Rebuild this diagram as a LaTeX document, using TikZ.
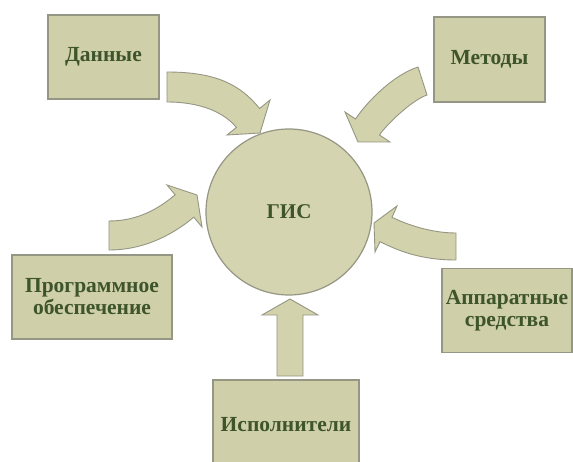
\documentclass[tikz,border=0pt]{standalone}
\usepackage{fontspec}
\setmainfont{Liberation Serif}
\definecolor{boxfill}{RGB}{207,207,170}
\definecolor{circfill}{RGB}{212,212,176}
\definecolor{arrfill}{RGB}{210,210,172}
\definecolor{edge}{RGB}{150,150,132}
\definecolor{txt}{RGB}{62,84,42}
\tikzset{
  blockbox/.style={draw=edge, line width=1.2pt, fill=boxfill, inner sep=0pt, text=txt,
     font=\rmfamily\fontsize{21.5}{22}\selectfont\bfseries, align=center},
  blockarrow/.style={draw=edge, line width=0.9pt, fill=arrfill, line join=miter},
}
\begin{document}
\begin{tikzpicture}[x=1pt,y=-1pt]
\useasboundingbox (0,0) rectangle (573,462);
\fill[white] (0,0) rectangle (573,462);
% boxes
\node[blockbox, minimum width=111, minimum height=84] (dan) at (103.5,57) {Данные};
\node[blockbox, minimum width=111, minimum height=85] (met) at (489.5,59.5) {Методы};
\node[blockbox, minimum width=160, minimum height=84] (prog) at (92,297) {Программное\\обеспечение};
\node[blockbox, minimum width=130, minimum height=84] (app) at (507,310.5) {Аппаратные\\средства};
\node[blockbox, minimum width=146, minimum height=90] (isp) at (286,425) {Исполнители};
% circle
\node[circle, draw=edge, line width=1.2pt, fill=circfill, minimum size=166, text=txt,
      font=\rmfamily\fontsize{21}{22}\selectfont\bfseries] (gis) at (289,212) {ГИС};
% arrow from Данные
\draw[blockarrow] (167,72) .. controls (217,72) and (240.6,85.2) .. (259.6,108.5)
   -- (270,100) -- (260,133) -- (227,135) -- (236.4,127.5)
   .. controls (223.8,112) and (200,102) .. (167,102) -- cycle;
% arrow from Методы
\draw[blockarrow] (418,67) .. controls (393,75) and (366.5,102.4) .. (355.5,119)
   -- (345,112) -- (358,142) -- (390,142) -- (379.5,135)
   .. controls (386,125) and (412,100) .. (427,95) -- cycle;
% arrow from Программное обеспечение
\draw[blockarrow] (109,221) .. controls (139,221) and (159.8,207.6) .. (175.2,194.8)
   -- (167,185) -- (197,195) -- (202,227) -- (193.8,217.2)
   .. controls (178.4,230) and (149,250) .. (109,250) -- cycle;
% arrow from Аппаратные средства
\draw[blockarrow] (456,233) .. controls (430,233) and (405.5,223.9) .. (392,217.3)
   -- (397,206) -- (374,223) -- (375,252) -- (380,241.7)
   .. controls (398,250.5) and (420,260) .. (456,260) -- cycle;
% arrow from Исполнители
\draw[blockarrow] (277,376) -- (277,315) -- (262,315) -- (290,299) -- (318,315)
   -- (303,315) -- (303,376) -- cycle;
\end{tikzpicture}
\end{document}
